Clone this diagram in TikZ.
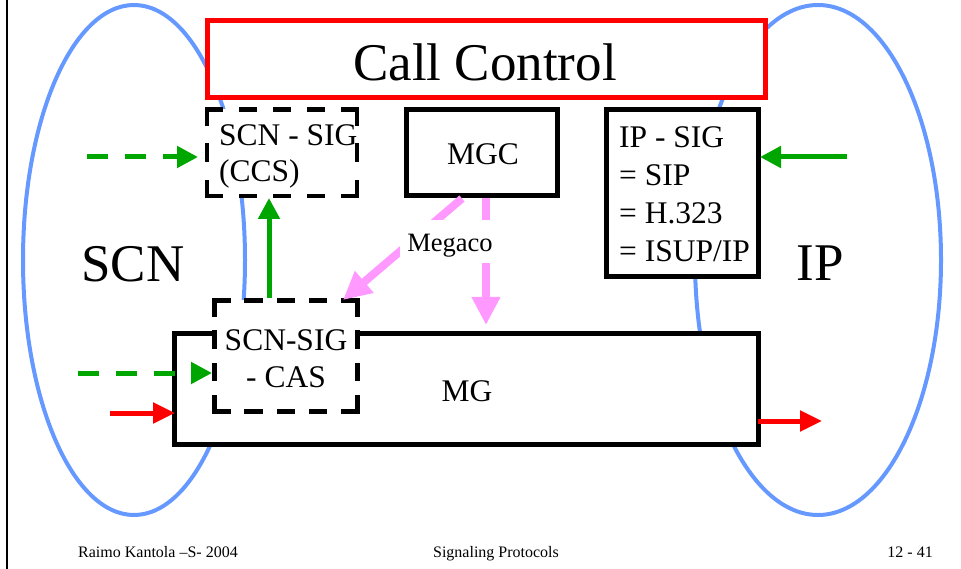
\documentclass[tikz,border=0pt]{standalone}
\usepackage{fontspec}
\setmainfont{Liberation Serif}
\usetikzlibrary{arrows.meta}
\definecolor{ellblue}{HTML}{6699FF}
\definecolor{sgreen}{HTML}{00A600}
\definecolor{sred}{HTML}{FF0000}
\definecolor{spink}{HTML}{FF99FF}
\tikzset{
  solidbox/.style={draw=black, line width=5pt, fill=white, inner sep=0pt},
  dashfill/.style={fill=white, inner sep=0pt},
  dside/.style={draw=black, line width=4.5pt, line cap=rect, dash pattern=on 14pt off #1},
  ccbox/.style={draw=sred, line width=5pt, fill=white, inner sep=0pt},
  garrow/.style={draw=sgreen, line width=5pt, -{Triangle[length=21pt,width=21pt]}},
  gdash/.style={garrow, dash pattern=on 21pt off 17pt},
  rarrow/.style={draw=sred, line width=5pt, -{Triangle[length=22pt,width=20pt]}},
  parrow/.style={draw=spink, line width=8pt, -{Triangle[length=28pt,width=27pt]}},
  ell/.style={draw=ellblue, line width=4pt},
  bigtxt/.style={inner sep=0pt, anchor=base, font=\fontsize{53}{60}\selectfont},
  midtxt/.style={inner sep=0pt, font=\fontsize{31.5}{38}\selectfont},
  foot/.style={inner sep=0pt, font=\fontsize{16}{19}\selectfont},
}
\begin{document}
\begin{tikzpicture}[x=1pt,y=-1pt]
\useasboundingbox (0,0) rectangle (961,569);
% left border
\draw[line width=2pt] (7,0) -- (7,569);
% ellipses
\draw[ell] (134,260) ellipse [x radius=111pt, y radius=255pt];
\draw[ell] (818,260) ellipse [x radius=123pt, y radius=255pt];
% boxes
\node[ccbox, minimum width=558pt, minimum height=77pt] (cc) at (486.5,59) {};
\node[dashfill, minimum width=150pt, minimum height=86.5pt] (ccs) at (282,152.75) {};
\draw[dside=20pt] (ccs.north west) -- (ccs.north east);
\draw[dside=20pt] (ccs.south west) -- (ccs.south east);
\draw[dside=22.25pt] (ccs.north west) -- (ccs.south west);
\draw[dside=22.25pt] (ccs.north east) -- (ccs.south east);
\node[solidbox, minimum width=150.5pt, minimum height=86.5pt] (mgc) at (481.75,152.75) {};
\node[solidbox, minimum width=151.5pt, minimum height=167pt] (ipsig) at (682.25,193) {};
\node[solidbox, minimum width=584pt, minimum height=111pt] (mg) at (466.5,389) {};
\node[dashfill, minimum width=143pt, minimum height=111pt] (cas) at (286,356) {};
\draw[dside=18.25pt] (cas.north west) -- (cas.north east);
\draw[dside=18.25pt] (cas.south west) -- (cas.south east);
\draw[dside=18.33pt] (cas.north west) -- (cas.south west);
\draw[dside=18.33pt] (cas.north east) -- (cas.south east);
% texts
\node[bigtxt] (tcc) at (485,81) {Call Control};
\node[bigtxt] (tscn) at (133,282) {SCN};
\node[bigtxt] (tip) at (820,281) {IP};
\node[midtxt, anchor=base west] (tccs1) at (219,146) {SCN - SIG};
\node[midtxt, anchor=base west] (tccs2) at (219,182) {(CCS)};
\node[midtxt, anchor=base] (tmgc) at (483,165) {MGC};
\node[midtxt, anchor=base west] (tip1) at (619,148) {IP - SIG};
\node[midtxt, anchor=base west] (tip2) at (619,186) {= SIP};
\node[midtxt, anchor=base west] (tip3) at (619,224) {= H.323};
\node[midtxt, anchor=base west] (tip4) at (619,262) {= ISUP/IP};
\node[midtxt, anchor=base] (tcas1) at (286,350) {SCN-SIG};
\node[midtxt, anchor=base] (tcas2) at (286,387) {- CAS};
\node[midtxt, anchor=base] (tmg) at (467,401) {MG};
% connector end points
\coordinate (g1s) at (87,157);   \coordinate (g1e) at (198,157);
\coordinate (g2s) at (78,373);   \coordinate (g2e) at (212,373);
\coordinate (g3s) at (269,298);  \coordinate (g3e) at (269,198);
\coordinate (g4s) at (847,157);  \coordinate (g4e) at (760,157);
\coordinate (r1s) at (110,413);  \coordinate (r1e) at (175,413);
\coordinate (r2s) at (758,421);  \coordinate (r2e) at (822,421);
\coordinate (p1s) at (462,198.5); \coordinate (p1e) at (343,300);
\coordinate (p2s) at (486,198.5); \coordinate (p2e) at (486,325);
% arrows
\draw[gdash] (g1s) -- (g1e);
\draw[gdash] (g2s) -- (g2e);
\draw[garrow] (g3s) -- (g3e);
\draw[garrow] (g4s) -- (g4e);
\draw[rarrow] (r1s) -- (r1e);
\draw[rarrow] (r2s) -- (r2e);
\draw[parrow] (p1s) -- (p1e);
\draw[parrow] (p2s) -- (p2e);
% Megaco label
\node[fill=white, inner sep=0pt, minimum width=100pt, minimum height=43pt, text height=28pt, text depth=7pt, font=\fontsize{26.5}{30}\selectfont] (megaco) at (450,241.5) {Megaco};
% footer
\node[foot, anchor=base west] (f1) at (78,557) {Raimo Kantola –S- 2004};
\node[foot, anchor=base] (f2) at (496,557) {Signaling Protocols};
\node[foot, anchor=base east] (f3) at (933,557) {12 - 41};
\end{tikzpicture}
\end{document}
